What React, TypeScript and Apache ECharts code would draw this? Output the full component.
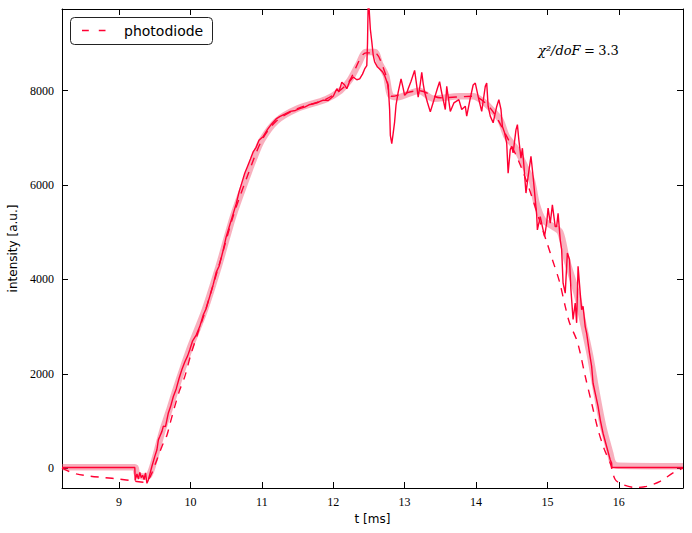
import React, { useEffect, useRef } from "react";
import * as echarts from "echarts";

const xTicks = [9, 10, 11, 12, 13, 14, 15, 16];
const yTicks = [0, 2000, 4000, 6000, 8000];

const dataT = [
  8.2, 9.22, 9.225, 9.25, 9.27, 9.29, 9.31, 9.33, 9.35, 9.37, 9.39, 9.41, 9.43, 9.46, 9.5, 9.53, 9.55, 9.57, 9.6, 9.62,
  9.65, 9.69, 9.72, 9.76, 9.8, 9.84, 9.88, 9.92, 9.96, 9.99, 10.03, 10.08, 10.13, 10.18, 10.22, 10.27, 10.32, 10.36, 10.4, 10.43,
  10.46, 10.5, 10.55, 10.6, 10.64, 10.68, 10.72, 10.76, 10.8, 10.84, 10.88, 10.92, 10.96, 11.02, 11.08, 11.14, 11.2, 11.25, 11.32, 11.4,
  11.47, 11.53, 11.6, 11.66, 11.72, 11.8, 11.86, 11.93, 12.0, 12.05, 12.08, 12.12, 12.16, 12.19, 12.23, 12.28, 12.33, 12.37, 12.41, 12.44,
  12.47, 12.48, 12.49, 12.5, 12.52, 12.54, 12.56, 12.58, 12.62, 12.65, 12.69, 12.72, 12.77, 12.79, 12.8, 12.82, 12.84, 12.86, 12.88, 12.91,
  12.95, 12.98, 13.0, 13.03, 13.05, 13.09, 13.14, 13.17, 13.19, 13.22, 13.24, 13.26, 13.28, 13.32, 13.36, 13.4, 13.43, 13.46, 13.49, 13.52,
  13.57, 13.59, 13.64, 13.69, 13.76, 13.8, 13.85, 13.87, 13.92, 13.96, 13.99, 14.04, 14.08, 14.13, 14.15, 14.17, 14.2, 14.24, 14.27, 14.29,
  14.32, 14.35, 14.37, 14.4, 14.43, 14.45, 14.48, 14.5, 14.52, 14.56, 14.58, 14.6, 14.63, 14.65, 14.67, 14.7, 14.73, 14.77, 14.8, 14.83,
  14.85, 14.86, 14.9, 14.93, 14.96, 14.99, 15.01, 15.04, 15.07, 15.11, 15.13, 15.15, 15.18, 15.2, 15.22, 15.25, 15.28, 15.31, 15.33, 15.36,
  15.39, 15.41, 15.43, 15.46, 15.48, 15.5, 15.53, 15.55, 15.59, 15.62, 15.64, 15.68, 15.71, 15.74, 15.78, 15.83, 15.88, 15.9, 15.905, 16.9,
];
const dataV = [
  15, 15, -260, -120, -230, -90, -200, -150, -240, -100, -320, -250, -130, 40, 250, 390, 600, 670, 780, 890,
  880, 1170, 1300, 1520, 1680, 1900, 2090, 2250, 2380, 2510, 2700, 2820, 3000, 3250, 3380, 3640, 3900, 4150, 4280, 4450,
  4630, 4900, 5150, 5400, 5600, 5850, 6050, 6250, 6400, 6550, 6710, 6800, 6950, 7030, 7180, 7300, 7400, 7450, 7500, 7560,
  7580, 7620, 7650, 7700, 7720, 7760, 7800, 7790, 7880, 8040, 7980, 8180, 8120, 8040, 8200, 8290, 8230, 8250, 8350, 8460,
  8530, 9000, 9900, 9800, 9300, 9040, 8750, 8610, 8500, 8460, 8400, 8320, 8110, 7600, 7050, 6875, 7100, 7340, 7700, 7970,
  8250, 8050, 7900, 7950, 8040, 8200, 8430, 8100, 7860, 8150, 8390, 8150, 7970, 7750, 7550, 7750, 7900, 8050, 8190, 7950,
  7600, 8090, 7560, 7740, 7810, 7600, 7670, 7460, 7840, 8120, 8160, 7810, 7560, 8090, 8160, 7670, 7460, 7320, 7525, 7665,
  7810, 7600, 7240, 7110, 6890, 6250, 6750, 6820, 6680, 7170, 7280, 6960, 6570, 6780, 6430, 5830, 6180, 6610, 6180, 5690,
  5370, 5050, 5330, 5120, 4910, 5190, 5510, 5190, 5580, 5120, 5120, 5400, 4840, 4630, 3920, 3710, 4560, 4420, 3780, 3150,
  3500, 3080, 4280, 3710, 3360, 3430, 3000, 2860, 2440, 2160, 1800, 1520, 1310, 1030, 740, 460, 180, 110, 15, 15,
];

const fitT = [
  8.2, 9.22, 9.25, 9.35, 9.42, 9.5, 9.6, 9.7, 9.8, 9.9, 10.0, 10.2, 10.4, 10.6, 10.8, 10.9, 11.0, 11.2, 11.5, 11.9,
  12.1, 12.23, 12.35, 12.46, 12.58, 12.66, 12.74, 12.8, 12.9, 13.2, 13.4, 13.77, 13.96, 14.1, 14.2, 14.34, 14.43, 14.57, 14.71, 14.78,
  14.85, 14.94, 15.08, 15.18, 15.27, 15.41, 15.5, 15.6, 15.69, 15.78, 15.88, 15.92, 16.0, 16.9,
];
const fitV = [
  20, 20, -120, -180, -150, 200, 760, 1220, 1700, 2150, 2580, 3350, 4300, 5350, 6200, 6600, 6950, 7350, 7620, 7820,
  8000, 8220, 8550, 8820, 8820, 8550, 8320, 7900, 7860, 8000, 7830, 7880, 7880, 7770, 7630, 7380, 7030, 6750, 6320, 6110,
  5600, 5260, 5120, 5000, 4420, 3710, 3080, 2370, 1590, 890, 320, 110, 50, 40,
];

const diodeT = [
  8.2, 8.3, 8.4, 8.6, 8.8, 9.0, 9.2, 9.35, 9.42, 9.46, 9.53, 9.6, 9.67, 9.72, 9.78, 9.85, 9.92, 10.0, 10.1, 10.2,
  10.4, 10.6, 10.8, 11.0, 11.2, 11.5, 11.9, 12.2, 12.46, 12.58, 12.74, 12.82, 13.2, 13.5, 13.96, 14.2, 14.43, 14.6, 14.75, 14.9,
  15.0, 15.07, 15.17, 15.25, 15.31, 15.41, 15.46, 15.53, 15.62, 15.71, 15.8, 15.88, 15.95, 16.06, 16.23, 16.39, 16.58, 16.76, 16.9,
];
const diodeV = [
  0, -70, -120, -170, -200, -230, -270, -300, -220, -100, 180, 460, 700, 980, 1310, 1660, 1940, 2380, 2850, 3300,
  4300, 5350, 6200, 6950, 7350, 7620, 7820, 8150, 8800, 8800, 8320, 7880, 8000, 7850, 7880, 7630, 7030, 6500, 5900, 5200,
  4750, 4420, 3950, 3430, 3080, 2720, 2440, 1950, 1380, 815, 390, 110, -240, -350, -410, -385, -280, -100, 0,
];

const RED = "#ff0033";
const pairs = (t: number[], v: number[]) => t.map((x, i) => [x, v[i]]);

export default function App() {
  const ref = useRef<HTMLDivElement>(null);
  useEffect(() => {
    document.body.style.margin = "0";
    const chart = echarts.init(ref.current!, null, { renderer: "svg" });
    const X_MIN = 8.2, X_MAX = 16.9, Y_MIN = -420, Y_MAX = 9730;
    const serif = "Liberation Serif";
    const mathFont = "DejaVu Serif";
    const sans = "DejaVu Sans";
    const line = { show: true, onZero: false, lineStyle: { color: "#000", width: 1 } };
    const tick = (vals: number[]) => ({
      show: true, inside: true, length: 6, customValues: vals, lineStyle: { color: "#000", width: 1 },
    });
    const fmt = (v: number) => String(v);
    chart.setOption({
      animation: false,
      backgroundColor: "#fff",
      grid: { left: 62, right: 9, top: 9, bottom: 45, containLabel: false, outerBoundsMode: "none" },
      xAxis: [
        {
          type: "value", min: X_MIN, max: X_MAX, position: "bottom",
          axisLine: line, axisTick: tick(xTicks), splitLine: { show: false },
          axisLabel: { customValues: xTicks, formatter: fmt, margin: 8, fontFamily: serif, fontSize: 12, color: "#000" },
          name: "t [ms]", nameLocation: "middle", nameGap: 18,
          nameTextStyle: { fontFamily: sans, fontSize: 12, color: "#000" },
        },
        {
          type: "value", min: X_MIN, max: X_MAX, position: "top",
          axisLine: line, axisTick: tick(xTicks), splitLine: { show: false }, axisLabel: { show: false },
        },
      ],
      yAxis: [
        {
          type: "value", min: Y_MIN, max: Y_MAX, position: "left",
          axisLine: line, axisTick: tick(yTicks), splitLine: { show: false },
          axisLabel: { customValues: yTicks, formatter: fmt, margin: 8, fontFamily: serif, fontSize: 12, color: "#000" },
          name: "intensity [a.u.]", nameLocation: "middle", nameGap: 42,
          nameTextStyle: { fontFamily: sans, fontSize: 12, color: "#000" },
        },
        {
          type: "value", min: Y_MIN, max: Y_MAX, position: "right",
          axisLine: line, axisTick: tick(yTicks), splitLine: { show: false }, axisLabel: { show: false },
        },
      ],
      series: [
        {
          name: "fit", type: "line", xAxisIndex: 0, yAxisIndex: 0, data: pairs(fitT, fitV),
          showSymbol: false, smooth: 0.3, lineStyle: { color: "rgba(240,80,110,0.45)", width: 6.5 }, z: 2,
        },
        {
          name: "photodiode", type: "line", xAxisIndex: 0, yAxisIndex: 0, data: pairs(diodeT, diodeV),
          showSymbol: false, smooth: 0.3, lineStyle: { color: RED, width: 1.4, type: [8, 7] }, z: 3,
        },
        {
          name: "data", type: "line", xAxisIndex: 0, yAxisIndex: 0, data: pairs(dataT, dataV),
          showSymbol: false, lineStyle: { color: RED, width: 1.4 }, z: 4,
        },
      ],
      graphic: [
        {
          type: "rect", z: 10, shape: { x: 70.5, y: 17.5, width: 142, height: 27, r: 4 },
          style: { fill: "#fff", stroke: "#222", lineWidth: 1 },
        },
        {
          type: "line", z: 11, shape: { x1: 82, y1: 30.5, x2: 105.5, y2: 30.5 },
          style: { stroke: RED, lineWidth: 1.4, lineDash: [6.8, 10] },
        },
        {
          type: "text", z: 11, x: 124, y: 31,
          style: { text: "photodiode", fontFamily: sans, fontSize: 14, fill: "#000", verticalAlign: "middle" },
        },
        {
          type: "text", z: 11, x: 538, y: 50,
          style: {
            text: "{i|χ²/doF} {n|=} {n|3.3}",
            verticalAlign: "middle",
            rich: {
              i: { fontFamily: mathFont, fontStyle: "italic", fontSize: 13, fill: "#000" },
              n: { fontFamily: mathFont, fontSize: 13, fill: "#000" },
            },
          },
        },
      ],
    });
    return () => chart.dispose();
  }, []);
  return <div ref={ref} style={{ width: 692, height: 533 }} />;
}
